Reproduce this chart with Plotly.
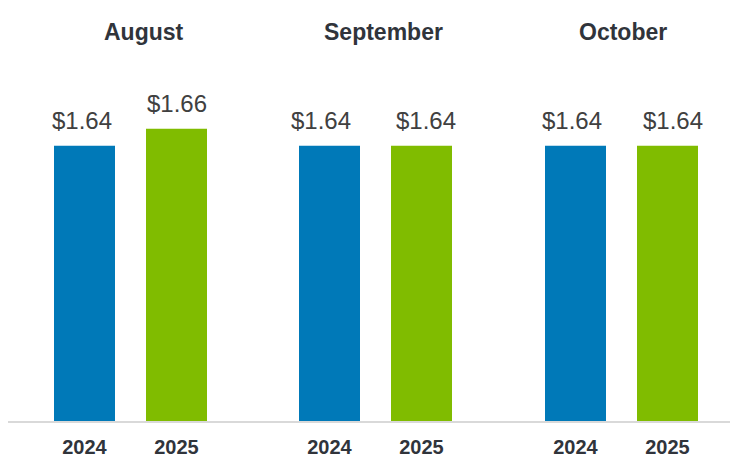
import plotly.graph_objects as go
from plotly.subplots import make_subplots

months = ["August", "September", "October"]
years = ["2024", "2025"]
values_2024 = [1.64, 1.64, 1.64]
values_2025 = [1.66, 1.64, 1.64]

BLUE = "#0079B8"
GREEN = "#80BC00"
TEXT = "#404040"
DARK = "#30343B"

W, H = 738, 468
OFF = 8  # page offset of the figure
group_px = [(38.5 - OFF, 222.5 - OFF), (283.5 - OFF, 467.5 - OFF), (529.5 - OFF, 713.5 - OFF)]
title_px = [144 - OFF, 383.5 - OFF, 623 - OFF]
label_xshift = [(-3, 0), (-9, 4.5), (-4, 5)]

fig = make_subplots(rows=1, cols=3, horizontal_spacing=0.05)
for i, m in enumerate(months):
    vals = [values_2024[i], values_2025[i]]
    fig.add_trace(go.Bar(
        x=years, y=vals, width=0.663,
        marker=dict(color=[BLUE, GREEN], line=dict(width=0)),
        showlegend=False, hoverinfo="skip",
    ), row=1, col=i + 1)
    d0, d1 = group_px[i]
    fig.update_xaxes(
        domain=[d0 / W, d1 / W], type="category", categoryorder="array",
        categoryarray=years, range=[-0.5, 1.5],
        showgrid=False, zeroline=False, showline=False, ticks="",
        ticklabelstandoff=11,
        tickfont=dict(family="Liberation Sans, Arial", size=20, color=DARK),
        row=1, col=i + 1,
    )
    fig.update_yaxes(range=[1.315, 1.741], visible=False, row=1, col=i + 1)
    xa = "x" if i == 0 else f"x{i+1}"
    ya = "y" if i == 0 else f"y{i+1}"
    for j, (y_lab, v) in enumerate(zip(years, vals)):
        fig.add_annotation(
            x=j, y=v, xref=xa, yref=ya, text=f"${v:.2f}", showarrow=False,
            yanchor="bottom", yshift=10, xshift=label_xshift[i][j],
            font=dict(family="Liberation Sans, Arial", size=24, color=TEXT),
        )
    fig.add_annotation(
        x=title_px[i] / W, y=1.078, xref="paper", yref="paper", text=f"<b>{m}</b>",
        showarrow=False, xanchor="center", yanchor="middle",
        font=dict(family="Liberation Sans, Arial", size=23, color=DARK),
    )

fig.update_xaxes(tickprefix="<b>", ticksuffix="</b>")
fig.update_layout(
    width=W, height=H, margin=dict(l=0, r=0, t=60 - OFF, b=46 + OFF),
    paper_bgcolor="white", plot_bgcolor="white",
)
fig.add_shape(type="line", xref="paper", yref="paper", x0=0, x1=(730 - OFF) / W, y0=0, y1=0,
              line=dict(color="#D9D9D9", width=2))

fig.write_html("out.html")
